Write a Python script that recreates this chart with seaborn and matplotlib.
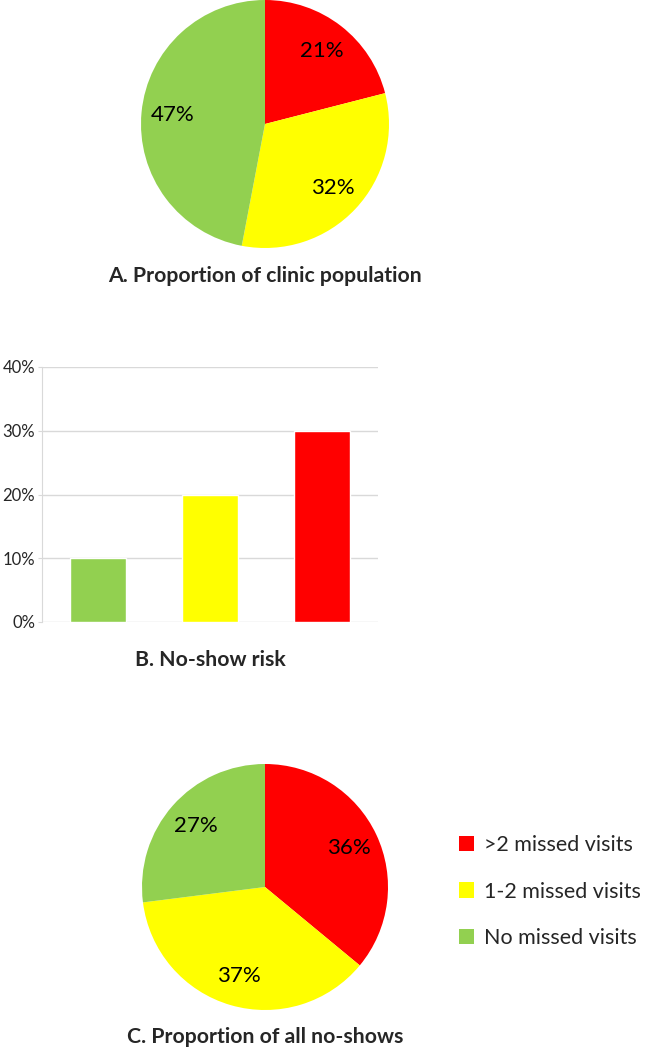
import matplotlib
matplotlib.use("Agg")
import matplotlib.pyplot as plt
import seaborn as sns
import pandas as pd
from matplotlib.patches import Patch

groups = [">2 missed visits", "1-2 missed visits", "No missed visits"]
colors = ["#FF0000", "#FFFF00", "#92D050"]
clinic_share = [21, 32, 47]
noshow_share = [36, 37, 27]
bar_groups = ["No missed visits", "1-2 missed visits", ">2 missed visits"]
noshow_risk = [10, 20, 30]
y_ticks = [0, 10, 20, 30, 40]

sns.set_style("white")
plt.rcParams['font.family'] = ['Lato', 'DejaVu Sans']

fig = plt.figure(figsize=(6.46, 10.5), dpi=100)


def draw_pie(ax, values, title):
    ax.pie(values, colors=colors, startangle=90, counterclock=False,
           autopct=lambda p: f"{p:.0f}%", pctdistance=0.75, radius=1,
           textprops={'fontsize': 16, 'color': 'black'},
           wedgeprops={'linewidth': 0})
    ax.set_xlim(-1, 1)
    ax.set_ylim(-1, 1)
    ax.set_aspect('equal')
    ax.set_title(title, y=-0.17, fontsize=15.3, fontweight='bold')


# A. pie
ax_a = fig.add_axes([141 / 646, 1 - 248 / 1050, 248 / 646, 248 / 1050])
draw_pie(ax_a, clinic_share, "A. Proportion of clinic population")

# B. bar
ax_b = fig.add_axes([42 / 646, 1 - 622 / 1050, 336 / 646, 255 / 1050])
df = pd.DataFrame({"group": bar_groups, "risk": noshow_risk})
pal = dict(zip(groups, colors))
sns.barplot(data=df, x="group", y="risk", hue="group", palette=pal,
            width=0.5, legend=False, ax=ax_b, saturation=1, zorder=3)
ax_b.set_ylim(0, 40)
ax_b.set_yticks(y_ticks)
ax_b.set_yticklabels([f"{t}%" for t in y_ticks], fontsize=12)
ax_b.set_xticks([])
ax_b.set_xlabel("B. No-show risk", fontsize=15.3, fontweight='bold', labelpad=20)
ax_b.set_ylabel("")
ax_b.yaxis.grid(True, color='#D9D9D9', linewidth=1, zorder=0)
for s in ['top', 'right', 'bottom']:
    ax_b.spines[s].set_visible(False)
ax_b.spines['left'].set_color('#D9D9D9')
ax_b.tick_params(axis='y', length=3, color='#D9D9D9', pad=2, left=True)

# C. pie
ax_c = fig.add_axes([142 / 646, 1 - 1010 / 1050, 246 / 646, 246 / 1050])
draw_pie(ax_c, noshow_share, "C. Proportion of all no-shows")

handles = [Patch(facecolor=c, edgecolor='none') for c in colors]
fig.legend(handles, groups, loc='upper left', bbox_to_anchor=(450 / 646, 1 - 826 / 1050),
           frameon=False, fontsize=15.5, handlelength=0.7, handleheight=0.7,
           handletextpad=0.5, labelspacing=1.25, borderaxespad=0)

fig.savefig("out.png", dpi=100, facecolor='white')
